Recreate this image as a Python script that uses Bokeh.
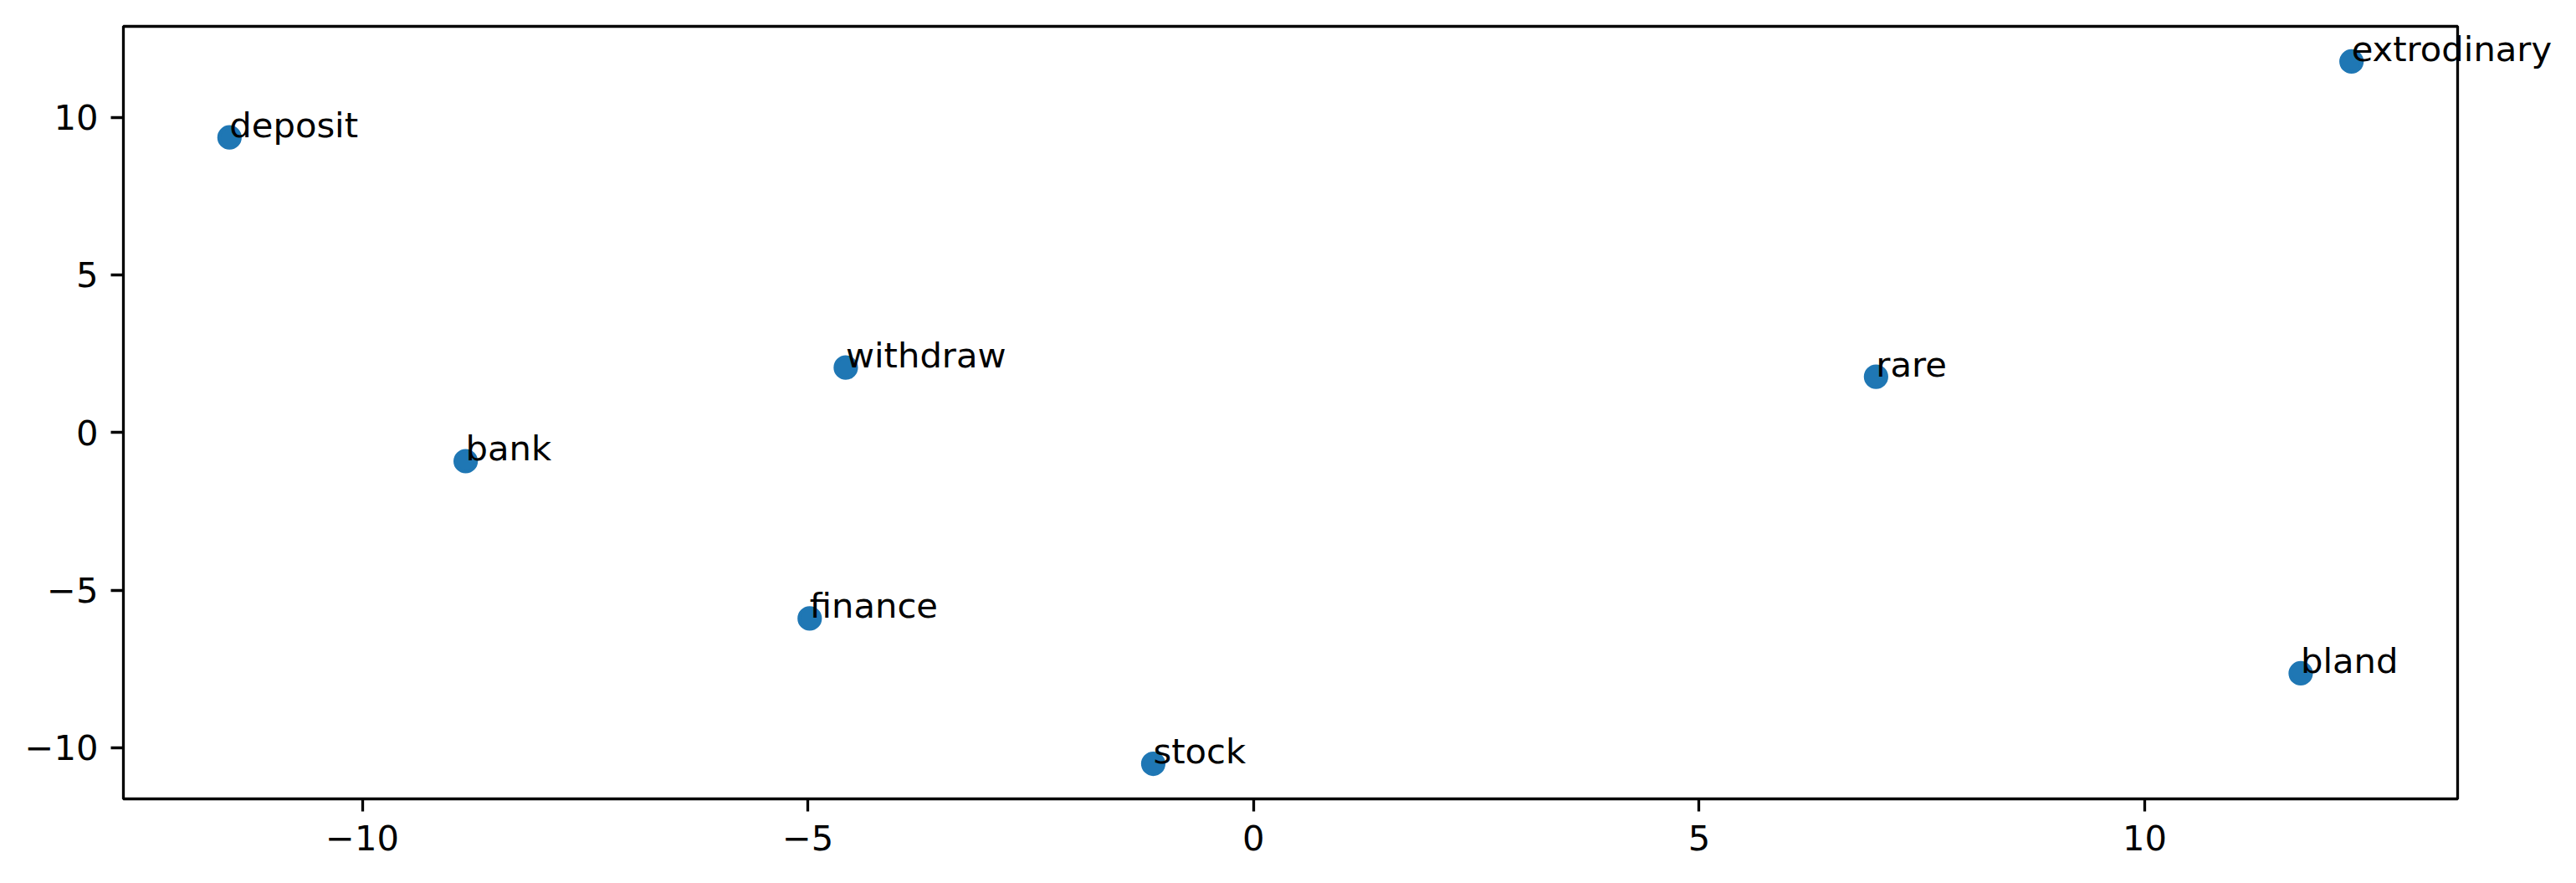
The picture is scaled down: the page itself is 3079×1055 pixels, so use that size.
from bokeh.plotting import figure
from bokeh.models import Label, Range1d, FixedTicker, ColumnDataSource, BoxAnnotation
from bokeh.embed import file_html
from bokeh.resources import INLINE

# ---- data ----
words = ["deposit", "withdraw", "bank", "finance", "stock", "rare", "bland", "extrodinary"]
xs = [-11.49, -4.575, -8.84, -4.98, -1.125, 6.985, 11.75, 12.32]
ys = [9.36, 2.06, -0.91, -5.90, -10.51, 1.77, -7.64, 11.77]
x_ticks = [-10, -5, 0, 5, 10]
y_ticks = [-10, -5, 0, 5, 10]

def fmt(v):
    return str(v).replace("-", "\u2212")

def padded(vals, frac=0.05):
    lo, hi = min(vals), max(vals)
    d = (hi - lo) * frac
    return lo - d, hi + d

# axes box (like matplotlib's auto margins)
x0, x1 = padded(xs)
y0, y1 = padded(ys)

# pixel geometry of the axes box
BOX_W, BOX_H = 2790, 923
BOX_LEFT, BOX_TOP = 147, 31
PAD_L, PAD_R, PAD_T, PAD_B = 6, 128, 6, 6   # drawable area beyond the box (text may overflow)
sx = BOX_W / (x1 - x0)
sy = BOX_H / (y1 - y0)

src = ColumnDataSource(dict(x=xs, y=ys, word=words))

FONT = "DejaVu Sans"
FS = "41.7px"
LW = 3.3

p = figure(
    frame_width=BOX_W + PAD_L + PAD_R, frame_height=BOX_H + PAD_T + PAD_B,
    min_border_left=BOX_LEFT - PAD_L, min_border_right=5,
    min_border_top=BOX_TOP - PAD_T, min_border_bottom=88,
    x_range=Range1d(x0 - PAD_L / sx, x1 + PAD_R / sx),
    y_range=Range1d(y0 - PAD_B / sy, y1 + PAD_T / sy),
    output_backend="svg", toolbar_location=None,
    background_fill_color="white", border_fill_color="white",
)
p.grid.visible = False
p.outline_line_color = None

p.scatter("x", "y", source=src, size=25, fill_color="#1f77b4", line_color="#1f77b4",
          line_width=4.2)

p.add_layout(BoxAnnotation(left=x0, right=x1, bottom=y0, top=y1,
                           fill_color=None, fill_alpha=0,
                           line_color="black", line_alpha=1.0, line_width=LW))

for w, xv, yv in zip(words, xs, ys):
    p.add_layout(Label(x=xv, y=yv, text=w, text_font=FONT, text_font_size=FS,
                       text_color="black", text_align="left",
                       text_baseline="alphabetic", y_offset=15))

for ax, ticks in ((p.xaxis[0], x_ticks), (p.yaxis[0], y_ticks)):
    ax.ticker = FixedTicker(ticks=ticks)
    ax.major_label_overrides = {t: fmt(t) for t in ticks}
    ax.axis_line_color = None
    ax.major_tick_in = 6
    ax.major_tick_out = 9
    ax.major_tick_line_width = LW
    ax.major_tick_line_color = "black"
    ax.minor_tick_line_color = None
    ax.major_label_text_font = FONT
    ax.major_label_text_font_size = FS
    ax.major_label_text_color = "black"

p.xaxis.major_label_standoff = 16
p.yaxis.major_label_standoff = 15

open("out.html", "w").write(file_html(p, INLINE))
